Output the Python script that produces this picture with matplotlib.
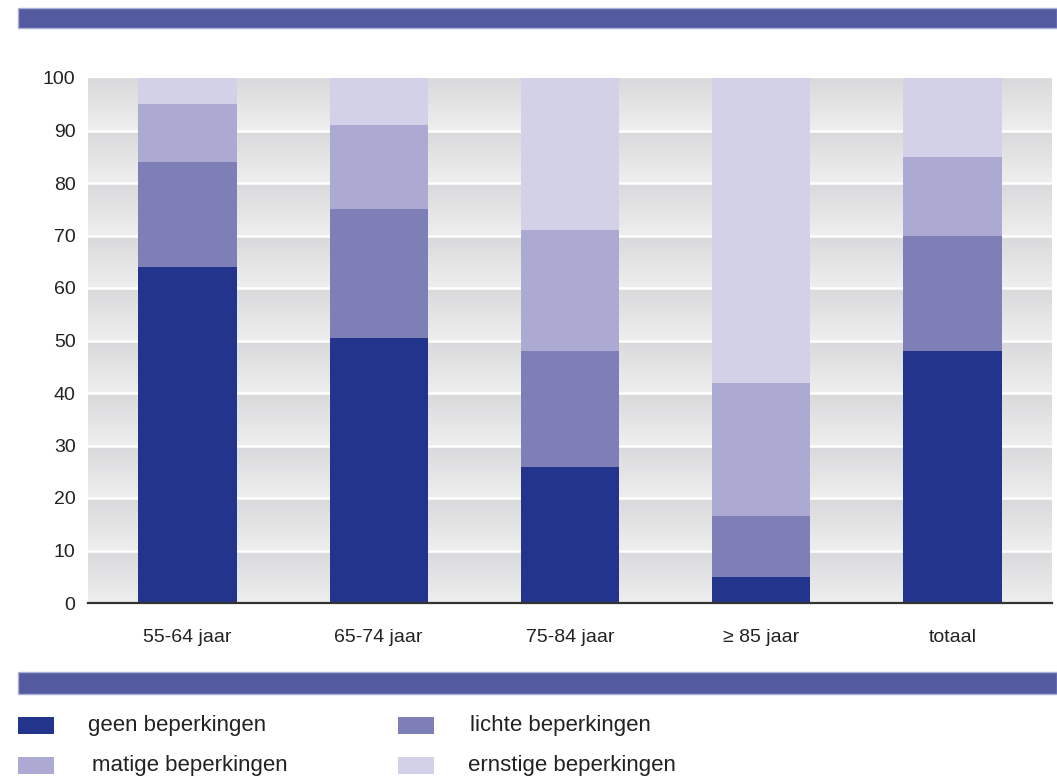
import numpy as np
import matplotlib
matplotlib.use("Agg")
import matplotlib.pyplot as plt
from matplotlib.colors import LinearSegmentedColormap
from matplotlib.patches import Rectangle

plt.rcParams['font.family'] = ['Liberation Sans', 'DejaVu Sans']

# Age groups and share (%) per level of limitation
categories = ["55-64 jaar", "65-74 jaar", "75-84 jaar", "\u2265 85 jaar", "totaal"]
geen = [64, 50.5, 26, 5, 48]
lichte = [20, 24.5, 22, 11.5, 22]
matige = [11, 16, 23, 25.5, 15]
ernstige = [5, 9, 29, 58, 15]
series_labels = ["geen beperkingen", "lichte beperkingen",
                 "matige beperkingen", "ernstige beperkingen"]
colors = ["#23348c", "#7f7fb8", "#acaad3", "#d3d1e8"]
yticks = list(range(0, 101, 10))

W, H = 1057, 778
fig = plt.figure(figsize=(W / 100, H / 100), dpi=100)
fig.patch.set_facecolor("white")

ax = fig.add_axes([88 / W, (H - 603) / H, (1052 - 88) / W, (603 - 78) / H])
x = np.arange(len(categories))
xlim = (-0.52, len(categories) - 1 + 0.52)

# banded grey gradient behind the bars: dark at the top of each band, light at the bottom
yy = np.linspace(0, 100, 2001)
frac = (yy % 10) / 10.0
grad = frac[:, None]
cmap = LinearSegmentedColormap.from_list("band", ["#efeff0", "#d9d9db"])
ax.imshow(grad, extent=[xlim[0], xlim[1], 0, 100], origin="lower",
          aspect="auto", cmap=cmap, vmin=0, vmax=1, zorder=0,
          interpolation="bilinear")
for t in yticks[1:-1]:
    ax.axhline(t, color="white", lw=1.8, zorder=1)

bottom = np.zeros(len(categories))
for vals, col, lab in zip([geen, lichte, matige, ernstige], colors, series_labels):
    ax.bar(x, vals, width=0.513, bottom=bottom, color=col, label=lab,
           edgecolor="none", zorder=2)
    bottom += np.array(vals)

ax.set_xlim(*xlim)
ax.set_ylim(0, 100)
ax.set_yticks(yticks)
ax.set_xticks(x)
ax.set_xticklabels(categories)
ax.tick_params(axis="both", length=0, labelsize=14, colors="#222222")
ax.tick_params(axis="y", pad=9)
ax.tick_params(axis="x", pad=19)
for s in ["top", "right", "left"]:
    ax.spines[s].set_visible(False)
ax.spines["bottom"].set_color("#333333")
ax.spines["bottom"].set_linewidth(1.6)
ax.spines["bottom"].set_zorder(3)

# banners above and below the chart
banner = "#535a9f"
edge = "#aab0d8"
for y0, y1 in [(8, 28), (672, 694)]:
    fig.add_artist(Rectangle((18 / W, 1 - y1 / H), (W - 18) / W, (y1 - y0) / H,
                             transform=fig.transFigure, facecolor=banner,
                             edgecolor=edge, linewidth=1))

# legend in two columns
legend_items = [
    (18, 717, 88, colors[0], series_labels[0]),
    (398, 717, 470, colors[1], series_labels[1]),
    (18, 757, 92, colors[2], series_labels[2]),
    (398, 757, 468, colors[3], series_labels[3]),
]
for sx, sy, tx, col, lab in legend_items:
    fig.add_artist(Rectangle((sx / W, 1 - (sy + 17) / H), 36 / W, 17 / H,
                             transform=fig.transFigure, facecolor=col,
                             edgecolor="none"))
    fig.text(tx / W, 1 - (sy + 9) / H, lab, fontsize=16, color="#222222",
             ha="left", va="center")

fig.savefig("out.png", dpi=100)
